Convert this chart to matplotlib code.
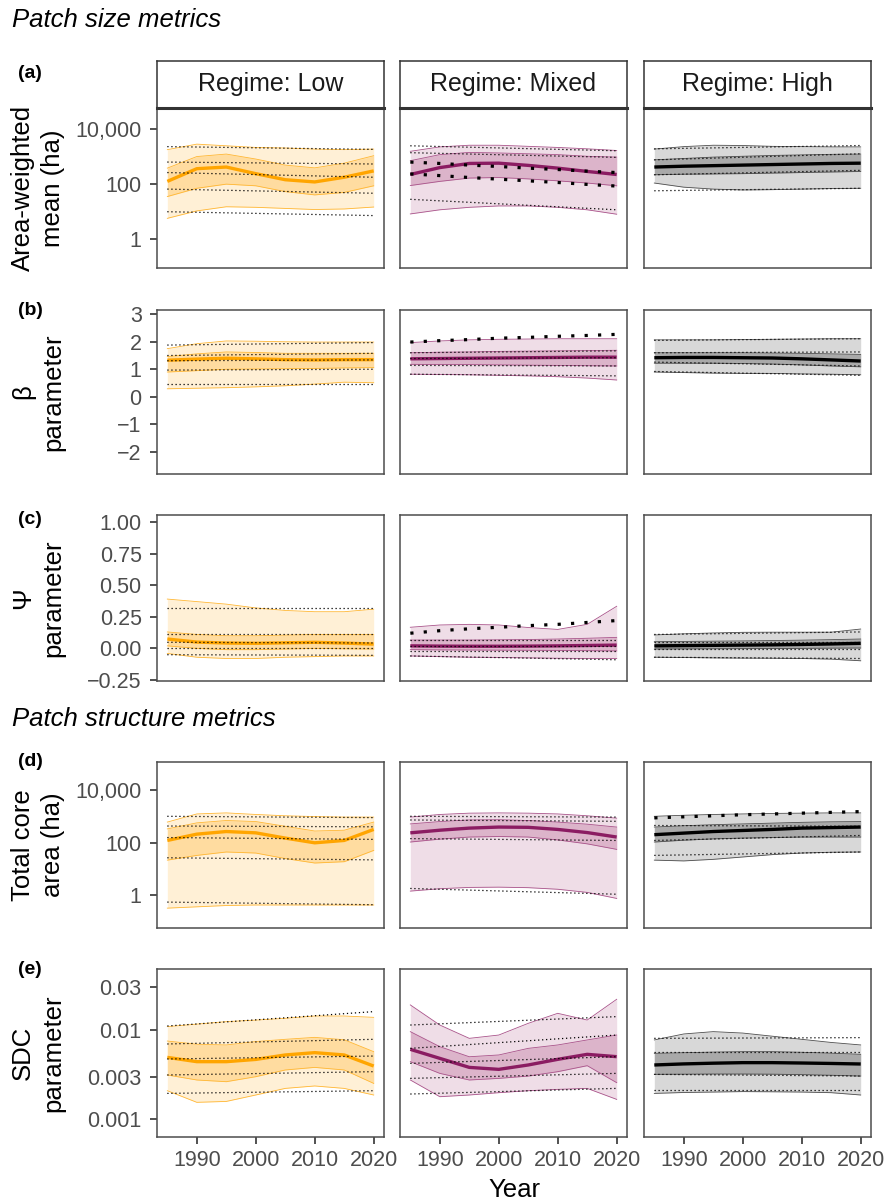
import numpy as np
import matplotlib.pyplot as plt
from matplotlib.ticker import FixedLocator, FixedFormatter, NullLocator

plt.rcParams['font.family'] = ['Liberation Sans', 'DejaVu Sans']

W, H = 887, 1203

years = [1985, 1990, 1995, 2000, 2005, 2010, 2015, 2020]
ref_years = [1985, 2020]
regimes = ["Low", "Mixed", "High"]

# each panel: [mid, inner lo, inner hi, outer lo, outer hi]
# rows a, d, e are log10 values; rows b, c are raw
a_low = [[2.10, 2.56, 2.62, 2.38, 2.16, 2.08, 2.25, 2.48],
         [1.55, 1.85, 2.00, 1.94, 1.73, 1.61, 1.70, 1.94],
         [2.58, 3.00, 3.09, 2.91, 2.69, 2.59, 2.76, 3.03],
         [0.76, 1.03, 1.18, 1.16, 1.12, 1.08, 1.10, 1.17],
         [3.25, 3.45, 3.39, 3.33, 3.31, 3.27, 3.25, 3.27]]
a_mixed = [[2.35, 2.60, 2.75, 2.76, 2.68, 2.58, 2.46, 2.35],
           [1.95, 2.10, 2.22, 2.24, 2.19, 2.12, 2.04, 1.94],
           [2.85, 3.07, 3.15, 3.13, 3.10, 3.07, 3.01, 2.98],
           [0.92, 1.07, 1.16, 1.21, 1.21, 1.16, 1.07, 0.91],
           [3.19, 3.35, 3.41, 3.41, 3.37, 3.33, 3.28, 3.22]]
a_high = [[2.62, 2.65, 2.67, 2.69, 2.71, 2.73, 2.75, 2.76],
          [2.34, 2.36, 2.37, 2.38, 2.40, 2.42, 2.44, 2.46],
          [2.88, 2.93, 2.98, 3.01, 3.04, 3.06, 3.08, 3.09],
          [2.04, 1.89, 1.82, 1.79, 1.80, 1.82, 1.84, 1.85],
          [3.27, 3.36, 3.41, 3.40, 3.37, 3.36, 3.35, 3.35]]
a_low_ref = [[3.36, 3.26], [2.80, 2.73], [2.42, 2.25], [1.82, 1.67], [1.00, 0.86]]
a_mixed_ref = [[3.39, 3.21], [3.14, 2.97], [1.45, 1.07]]
a_high_ref = [[3.28, 3.40], [2.88, 3.10], [2.34, 2.50], [1.76, 1.85]]
a_mixed_thick = [[2.80, 2.75, 2.69, 2.64, 2.58, 2.53, 2.47, 2.42],
                 [2.37, 2.31, 2.24, 2.18, 2.12, 2.06, 1.99, 1.93]]

b_low = [[1.33, 1.37, 1.40, 1.38, 1.35, 1.34, 1.35, 1.35],
         [0.90, 0.95, 1.00, 1.01, 1.02, 1.03, 1.05, 1.06],
         [1.46, 1.56, 1.63, 1.61, 1.58, 1.58, 1.58, 1.58],
         [0.29, 0.31, 0.33, 0.36, 0.40, 0.46, 0.53, 0.51],
         [1.75, 1.93, 2.03, 2.02, 2.00, 1.99, 1.99, 1.99]]
b_mixed = [[1.38, 1.39, 1.40, 1.41, 1.42, 1.43, 1.44, 1.44],
           [1.18, 1.17, 1.17, 1.16, 1.15, 1.14, 1.13, 1.12],
           [1.60, 1.62, 1.63, 1.65, 1.66, 1.67, 1.68, 1.69],
           [0.82, 0.81, 0.80, 0.78, 0.76, 0.73, 0.68, 0.61],
           [1.97, 2.03, 2.07, 2.09, 2.10, 2.11, 2.11, 2.11]]
b_high = [[1.42, 1.43, 1.43, 1.42, 1.41, 1.38, 1.34, 1.30],
          [1.22, 1.22, 1.22, 1.21, 1.19, 1.16, 1.12, 1.09],
          [1.60, 1.60, 1.60, 1.60, 1.59, 1.58, 1.56, 1.54],
          [0.90, 0.88, 0.86, 0.85, 0.85, 0.83, 0.82, 0.80],
          [2.07, 2.07, 2.07, 2.08, 2.09, 2.10, 2.11, 2.11]]
b_low_ref = [[1.88, 1.97], [1.50, 1.58], [1.31, 1.34], [0.97, 1.00], [0.45, 0.45]]
b_mixed_ref = [[1.60, 1.67], [1.39, 1.42], [1.14, 1.12], [0.82, 0.76]]
b_high_ref = [[2.05, 2.11], [1.60, 1.63], [1.26, 1.12], [0.92, 0.78]]
b_mixed_thick = [[1.99, 2.04, 2.08, 2.13, 2.16, 2.20, 2.23, 2.27]]

c_low = [[0.074, 0.050, 0.042, 0.040, 0.044, 0.048, 0.042, 0.034],
         [0.020, 0.000, -0.010, -0.010, -0.005, 0.000, -0.003, -0.005],
         [0.130, 0.110, 0.100, 0.100, 0.105, 0.110, 0.110, 0.110],
         [-0.040, -0.070, -0.080, -0.080, -0.070, -0.065, -0.060, -0.060],
         [0.390, 0.370, 0.350, 0.320, 0.300, 0.290, 0.290, 0.310]]
c_mixed = [[0.020, 0.018, 0.017, 0.017, 0.018, 0.020, 0.023, 0.026],
           [-0.010, -0.012, -0.013, -0.014, -0.015, -0.016, -0.018, -0.020],
           [0.066, 0.066, 0.066, 0.068, 0.070, 0.074, 0.080, 0.087],
           [-0.060, -0.065, -0.070, -0.072, -0.075, -0.078, -0.080, -0.080],
           [0.167, 0.185, 0.190, 0.185, 0.165, 0.150, 0.190, 0.333]]
c_high = [[0.020, 0.022, 0.024, 0.026, 0.028, 0.031, 0.035, 0.040],
          [-0.005, -0.004, -0.003, -0.002, -0.001, 0.000, 0.002, 0.003],
          [0.053, 0.055, 0.057, 0.059, 0.062, 0.065, 0.069, 0.074],
          [-0.070, -0.072, -0.075, -0.077, -0.078, -0.080, -0.085, -0.098],
          [0.106, 0.115, 0.122, 0.127, 0.128, 0.128, 0.128, 0.153]]
c_low_ref = [[0.32, 0.32], [0.11, 0.11], [0.048, 0.043], [0.0, 0.0], [-0.05, -0.055]]
c_mixed_ref = [[0.066, 0.066], [0.02, 0.02], [-0.02, -0.02], [-0.06, -0.09]]
c_high_ref = [[0.11, 0.13], [0.048, 0.048], [-0.005, -0.005], [-0.07, -0.08]]
c_mixed_thick = [[0.12, 0.14, 0.155, 0.167, 0.18, 0.19, 0.205, 0.22]]

d_low = [[2.08, 2.32, 2.42, 2.37, 2.17, 1.99, 2.08, 2.50],
         [1.33, 1.51, 1.64, 1.60, 1.39, 1.22, 1.27, 1.70],
         [2.52, 2.75, 2.84, 2.80, 2.62, 2.44, 2.47, 2.78],
         [-0.50, -0.45, -0.40, -0.38, -0.38, -0.38, -0.38, -0.38],
         [2.78, 3.09, 3.13, 3.07, 3.02, 2.99, 2.97, 2.97]]
d_mixed = [[2.37, 2.47, 2.55, 2.59, 2.58, 2.50, 2.38, 2.21],
           [2.02, 2.13, 2.21, 2.23, 2.21, 2.10, 1.95, 1.74],
           [2.71, 2.80, 2.86, 2.87, 2.84, 2.78, 2.70, 2.59],
           [0.15, 0.24, 0.29, 0.30, 0.28, 0.22, 0.10, -0.13],
           [2.97, 3.07, 3.12, 3.13, 3.12, 3.09, 3.02, 2.93]]
d_high = [[2.30, 2.36, 2.42, 2.46, 2.50, 2.55, 2.57, 2.59],
          [2.02, 2.09, 2.14, 2.17, 2.19, 2.21, 2.21, 2.21],
          [2.59, 2.64, 2.68, 2.71, 2.74, 2.77, 2.79, 2.80],
          [1.33, 1.30, 1.36, 1.45, 1.54, 1.60, 1.63, 1.64],
          [3.00, 3.04, 3.07, 3.09, 3.11, 3.12, 3.13, 3.13]]
d_low_ref = [[3.00, 2.95], [2.63, 2.60], [2.19, 2.12], [1.42, 1.34], [-0.27, -0.37]]
d_mixed_ref = [[3.00, 2.97], [2.86, 2.81], [2.15, 2.08], [0.25, 0.03]]
d_high_ref = [[2.65, 2.62], [2.08, 2.27], [1.51, 1.64]]
d_high_thick = [[2.94, 2.98, 3.02, 3.06, 3.09, 3.12, 3.15, 3.18]]

e_low = [[-2.307, -2.355, -2.355, -2.330, -2.280, -2.254, -2.280, -2.404],
         [-2.504, -2.560, -2.579, -2.523, -2.448, -2.419, -2.448, -2.598],
         [-2.124, -2.160, -2.168, -2.130, -2.105, -2.083, -2.110, -2.243],
         [-2.680, -2.810, -2.800, -2.728, -2.654, -2.627, -2.654, -2.728],
         [-1.963, -1.935, -1.907, -1.890, -1.870, -1.844, -1.844, -1.859]]
e_mixed = [[-2.217, -2.318, -2.419, -2.441, -2.392, -2.329, -2.273, -2.299],
           [-2.355, -2.486, -2.560, -2.542, -2.516, -2.467, -2.400, -2.590],
           [-2.019, -2.187, -2.300, -2.280, -2.206, -2.168, -2.112, -2.057],
           [-2.560, -2.747, -2.728, -2.702, -2.680, -2.665, -2.654, -2.777],
           [-1.720, -1.945, -2.094, -2.057, -1.926, -1.814, -1.889, -1.657]]
e_high = [[-2.392, -2.380, -2.372, -2.366, -2.366, -2.370, -2.375, -2.381],
          [-2.497, -2.495, -2.493, -2.493, -2.495, -2.500, -2.507, -2.516],
          [-2.262, -2.255, -2.248, -2.243, -2.243, -2.250, -2.260, -2.273],
          [-2.710, -2.700, -2.695, -2.690, -2.692, -2.695, -2.702, -2.728],
          [-2.112, -2.045, -2.019, -2.035, -2.070, -2.105, -2.140, -2.168]]
e_low_ref = [[-1.956, -1.795], [-2.157, -2.105], [-2.325, -2.292], [-2.504, -2.467], [-2.710, -2.680]]
e_mixed_ref = [[-1.945, -1.851], [-2.206, -2.057], [-2.374, -2.299], [-2.542, -2.486], [-2.717, -2.654]]
e_high_ref = [[-2.094, -2.086], [-2.250, -2.250], [-2.497, -2.516], [-2.672, -2.672]]

row_data = [
    (a_low, a_mixed, a_high, a_low_ref, a_mixed_ref, a_high_ref, {1: a_mixed_thick}),
    (b_low, b_mixed, b_high, b_low_ref, b_mixed_ref, b_high_ref, {1: b_mixed_thick}),
    (c_low, c_mixed, c_high, c_low_ref, c_mixed_ref, c_high_ref, {1: c_mixed_thick}),
    (d_low, d_mixed, d_high, d_low_ref, d_mixed_ref, d_high_ref, {2: d_high_thick}),
    (e_low, e_mixed, e_high, e_low_ref, e_mixed_ref, e_high_ref, {}),
]
row_log = [True, False, False, True, True]
row_titles = ["Area-weighted\nmean (ha)", "β\nparameter", "Ψ\nparameter",
              "Total core\narea (ha)", "SDC\nparameter"]
row_letters = ["(a)", "(b)", "(c)", "(d)", "(e)"]
row_ticks = [[1, 100, 10000], [-2, -1, 0, 1, 2, 3], [-0.25, 0, 0.25, 0.5, 0.75, 1.0],
             [1, 100, 10000], [0.001, 0.003, 0.01, 0.03]]
row_ticklabels = [["1", "100", "10,000"], ["\u22122", "\u22121", "0", "1", "2", "3"],
                  ["\u22120.25", "0.00", "0.25", "0.50", "0.75", "1.00"],
                  ["1", "100", "10,000"], ["0.001", "0.003", "0.01", "0.03"]]
row_ylim = [(10 ** -1.04, 10 ** 4.76), (-2.81, 3.156), (-0.258, 1.055),
            (10 ** -1.257, 10 ** 5.07), (10 ** -3.198, 10 ** -1.318)]

# colours per regime: line, outer fill, inner fill, edge
styles = [("#FFA500", "#FFF0D6", "#FFDCA0", "#FFB733"),
          ("#8B1C62", "#EFDDE7", "#DCB4CA", "#A9538A"),
          ("black", "#D8D8D8", "#A9A9A9", "#4D4D4D")]

col_left = [157, 400, 644]
col_w = 227
row_top = [108, 310, 515, 762, 969]
row_bot = [268, 474, 681, 928, 1137]
letter_y = [74, 311, 519, 761, 969]

fig = plt.figure(figsize=(W / 100, H / 100), dpi=100)


def px_axes(l, t, r, b):
    return fig.add_axes([l / W, 1 - b / H, (r - l) / W, (b - t) / H])


for ri in range(5):
    rd = row_data[ri]
    for ci in range(3):
        band = rd[ci]
        refs = rd[3 + ci]
        thick = rd[6].get(ci, [])
        line_c, out_c, in_c, edge_c = styles[ci]
        ax = px_axes(col_left[ci], row_top[ri], col_left[ci] + col_w, row_bot[ri])
        if row_log[ri]:
            ax.set_yscale('log')
            conv = lambda v: 10 ** np.array(v)
        else:
            conv = lambda v: np.array(v)
        mid, ilo, ihi, olo, ohi = [conv(v) for v in band]
        ax.fill_between(years, olo, ohi, color=out_c, lw=0, zorder=1)
        ax.fill_between(years, ilo, ihi, color=in_c, lw=0, zorder=2)
        for edge in (olo, ohi, ilo, ihi):
            ax.plot(years, edge, color=edge_c, lw=0.6, zorder=3)
        ax.plot(years, mid, color=line_c, lw=2.4, solid_capstyle='butt', zorder=4)
        for rl in refs:
            ax.plot(ref_years, conv(rl), color='black', lw=0.9,
                    linestyle=(0, (1, 2.2)), zorder=5)
        for tl in thick:
            ax.plot(years, conv(tl), color='black', lw=2.3,
                    linestyle=(0, (1, 3.2)), dash_capstyle='butt', zorder=6)

        ax.set_xlim(1983.25, 2021.75)
        ax.set_ylim(*row_ylim[ri])
        ax.yaxis.set_major_locator(FixedLocator(row_ticks[ri]))
        ax.yaxis.set_major_formatter(FixedFormatter(row_ticklabels[ri]))
        ax.yaxis.set_minor_locator(NullLocator())
        ax.xaxis.set_major_locator(FixedLocator([1990, 2000, 2010, 2020]))
        ax.xaxis.set_minor_locator(NullLocator())
        ax.tick_params(length=5, width=1.2, color="#333333", labelsize=15.5,
                       labelcolor="#4D4D4D", pad=4)
        ax.tick_params(axis='y', pad=6)
        for sp in ax.spines.values():
            sp.set_color("#4D4D4D")
            sp.set_linewidth(1.1)
        if ci > 0:
            ax.tick_params(left=False, labelleft=False)
        if ri < 4:
            ax.tick_params(bottom=False, labelbottom=False)

        if ri == 0:
            sax = px_axes(col_left[ci], 61, col_left[ci] + col_w, row_top[0])
            sax.set_xticks([])
            sax.set_yticks([])
            for sp in sax.spines.values():
                sp.set_color("#333333")
                sp.set_linewidth(1.1)
            sax.spines['bottom'].set_linewidth(2.2)
            sax.text(0.5, 0.5, "Regime: " + regimes[ci], ha='center', va='center',
                     fontsize=18, color="#1A1A1A", transform=sax.transAxes)

    yc = (row_top[ri] + row_bot[ri]) / 2
    fig.text(38 / W, 1 - yc / H, row_titles[ri], rotation=90, ha='center',
             va='center', fontsize=18.5, linespacing=1.3, multialignment='center')
    fig.text(18 / W, 1 - letter_y[ri] / H, row_letters[ri], ha='left', va='center',
             fontsize=14, fontweight='bold')

fig.text(12 / W, 1 - 20 / H, "Patch size metrics", ha='left', va='center',
         fontsize=18.5, style='italic')
fig.text(12 / W, 1 - 719 / H, "Patch structure metrics", ha='left', va='center',
         fontsize=18.5, style='italic')
fig.text(514 / W, 1 - 1190 / H, "Year", ha='center', va='center', fontsize=18.5)

fig.savefig("out.png", dpi=100)
